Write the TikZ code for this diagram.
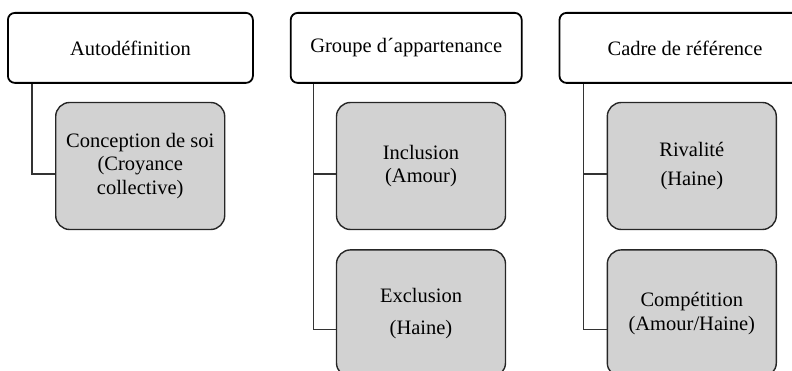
\documentclass[tikz,border=0pt]{standalone}
\usepackage{fontspec}
\setmainfont{Liberation Serif}
\usepackage{xcolor}
\usetikzlibrary{positioning}
\definecolor{boxgray}{RGB}{210,210,210}

\begin{document}
\begin{tikzpicture}[
    x=1pt, y=1pt,
    node distance=36pt,
    font=\fontsize{20.5}{23.5}\selectfont,
    head/.style={rectangle, draw, line width=1.8pt, rounded corners=7pt, minimum height=70pt, align=center},
    item/.style={rectangle, draw=black!85, fill=boxgray, line width=1.4pt, rounded corners=14pt, minimum width=169pt, minimum height=127pt, align=center},
    link/.style={draw=black!80, line width=1.3pt}
]
    \useasboundingbox (0,0) rectangle (792,-371);
    \clip (0,0) rectangle (792,-371);

    \node[head, minimum width=245pt, anchor=north west] (autodef) at (7,-12) {Autodéfinition};
    \node[head, minimum width=231pt, right=of autodef] (groupe) {Groupe d´appartenance};
    \node[head, minimum width=251pt, right=of groupe] (cadre) {Cadre de référence};

    \node[item, below=18pt of autodef.south west, anchor=north west, xshift=48pt] (soi) {Conception de soi\\(Croyance\\collective)};
    \node[item, below=18pt of groupe.south west, anchor=north west, xshift=46pt] (incl) {Inclusion\\(Amour)};
    \node[item, below=19pt of incl] (excl) {Exclusion\\[8pt](Haine)};
    \node[item, below=18pt of cadre.south west, anchor=north west, xshift=48pt] (rival) {Rivalité\\[6pt](Haine)};
    \node[item, below=19pt of rival] (compet) {Compétition\\(Amour/Haine)};

    \draw[link] ([xshift=25pt]autodef.south west) |- ([yshift=-8pt]soi.west);
    \draw[link] ([xshift=24pt]groupe.south west) |- ([yshift=-8pt]incl.west);
    \draw[link] ([xshift=24pt]groupe.south west) |- ([yshift=-16pt]excl.west);
    \draw[link] ([xshift=25pt]cadre.south west) |- ([yshift=-8pt]rival.west);
    \draw[link] ([xshift=25pt]cadre.south west) |- ([yshift=-16pt]compet.west);
\end{tikzpicture}
\end{document}
